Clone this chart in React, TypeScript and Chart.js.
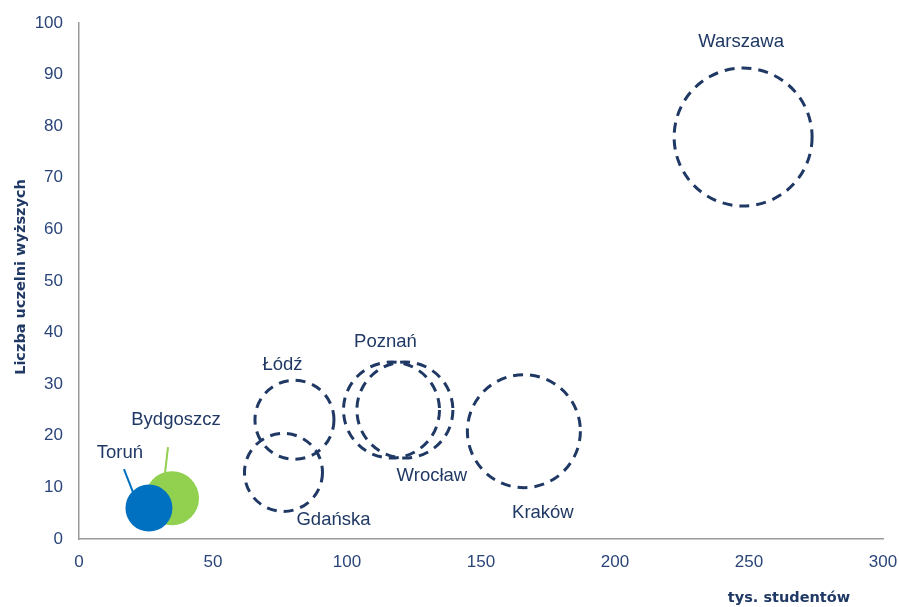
import React, { useEffect, useRef } from "react";
import { Chart, registerables } from "chart.js";

Chart.register(...registerables);

// ---- data ----
const cities = ["Warszawa", "Kraków", "Poznań", "Wrocław", "Łódź", "Gdańsk", "Bydgoszcz", "Toruń"];
const cityLabels = ["Warszawa", "Kraków", "Poznań", "Wrocław", "Łódź", "Gdańska", "Bydgoszcz", "Toruń"];
const students = [247.8, 166.0, 116.6, 121.6, 80.4, 76.3, 34.7, 26.1]; // tys. studentów
const universities = [77.9, 20.9, 25.0, 25.0, 23.1, 12.9, 7.9, 6.0]; // liczba uczelni
const bubbleSize = [69, 56.5, 48, 48, 39.5, 39, 27, 23.5];
const xTicks = [0, 50, 100, 150, 200, 250, 300];
const yTicks = [0, 10, 20, 30, 40, 50, 60, 70, 80, 90, 100];
const xTitle = "tys. studentów";
const yTitle = "Liczba uczelni wyższych";

// ---- styling ----
const NAVY = "#1F3864";
const TICK = "#2A4579";
const solidColors: Record<string, string> = { Bydgoszcz: "#92D050", Toruń: "#0070C0" };
// label offsets (px) from each bubble centre
const labelOffsets: Record<string, [number, number]> = {
  Warszawa: [-2, -95],
  Kraków: [19, 82],
  Poznań: [-6, -68],
  Wrocław: [27, 66],
  Łódź: [-12, -55],
  Gdańsk: [50, 47],
  Bydgoszcz: [4, -78],
  Toruń: [-29, -55],
};
// leader lines (px offsets from bubble centre)
const leaders: Record<string, [number, number, number, number]> = {
  Bydgoszcz: [-4, -51, -7, -25],
  Toruń: [-25, -39, -16, -16],
};

const dashedIdx = cities.map((_, i) => i).filter((i) => !solidColors[cities[i]]);
const solidIdx = cities.map((_, i) => i).filter((i) => !!solidColors[cities[i]]);

const overlay = {
  id: "overlay",
  beforeDatasetDraw(chart: any, args: any) {
    if (args.index === 0) {
      chart.ctx.setLineDash([10, 7]);
    }
  },
  afterDatasetDraw(chart: any) {
    chart.ctx.setLineDash([]);
  },
  beforeDatasetsDraw(chart: any) {
    const ctx = chart.ctx;
    const xs = chart.scales.x;
    const ys = chart.scales.y;
    ctx.save();
    ctx.lineWidth = 2;
    cities.forEach((c, i) => {
      const l = leaders[c];
      if (!l) return;
      const px = xs.getPixelForValue(students[i]);
      const py = ys.getPixelForValue(universities[i]);
      ctx.strokeStyle = solidColors[c];
      ctx.beginPath();
      ctx.moveTo(px + l[0], py + l[1]);
      ctx.lineTo(px + l[2], py + l[3]);
      ctx.stroke();
    });
    ctx.restore();
  },
  afterDatasetsDraw(chart: any) {
    const ctx = chart.ctx;
    const xs = chart.scales.x;
    const ys = chart.scales.y;
    ctx.save();
    ctx.fillStyle = NAVY;
    ctx.font = "18.5px 'Liberation Sans', Arial, sans-serif";
    ctx.textAlign = "center";
    ctx.textBaseline = "middle";
    cities.forEach((c, i) => {
      const off = labelOffsets[c];
      const px = xs.getPixelForValue(students[i]);
      const py = ys.getPixelForValue(universities[i]);
      ctx.fillText(cityLabels[i], px + off[0], py + off[1]);
    });
    // axis titles
    ctx.font = "bold 14.5px 'DejaVu Sans', sans-serif";
    ctx.fillStyle = NAVY;
    ctx.fillText(xTitle, 789, 598);
    ctx.translate(21, 277);
    ctx.rotate(-Math.PI / 2);
    ctx.fillText(yTitle, 0, 0);
    ctx.restore();
  },
};

export default function App() {
  const ref = useRef<HTMLCanvasElement>(null);
  useEffect(() => {
    if (!ref.current) return;
    const chart = new Chart(ref.current, {
      type: "bubble",
      data: {
        datasets: [
          {
            label: "dashed",
            data: dashedIdx.map((i) => ({ x: students[i], y: universities[i], r: bubbleSize[i] })),
            backgroundColor: "rgba(0,0,0,0)",
            borderColor: NAVY,
            borderWidth: 3,
            hoverRadius: 0,
          },
          {
            label: "solid",
            data: solidIdx.map((i) => ({ x: students[i], y: universities[i], r: bubbleSize[i] })),
            backgroundColor: solidIdx.map((i) => solidColors[cities[i]]),
            borderColor: solidIdx.map((i) => solidColors[cities[i]]),
            borderWidth: 0,
            hoverRadius: 0,
          },
        ],
      },
      options: {
        animation: false,
        responsive: true,
        maintainAspectRatio: false,
        events: [],
        layout: { autoPadding: false, padding: { top: 23, right: 16, bottom: 0, left: 0 } },
        plugins: { legend: { display: false }, tooltip: { enabled: false } },
        scales: {
          x: {
            type: "linear",
            min: 0,
            max: 300,
            afterBuildTicks: (s: any) => {
              s.ticks = xTicks.map((v) => ({ value: v }));
            },
            afterFit: (s: any) => {
              s.height = 68;
              s.paddingLeft = 0;
              s.paddingRight = 0;
            },
            grid: { display: false, drawTicks: false },
            border: { display: true, color: "#9A9A9A", width: 1.5 },
            ticks: {
              color: TICK,
              font: { family: "'Liberation Sans', Arial, sans-serif", size: 17 },
              padding: 13,
              maxRotation: 0,
            },
          },
          y: {
            type: "linear",
            min: 0,
            max: 100,
            afterBuildTicks: (s: any) => {
              s.ticks = yTicks.map((v) => ({ value: v }));
            },
            afterFit: (s: any) => {
              s.width = 79;
              s.paddingTop = 0;
              s.paddingBottom = 0;
            },
            grid: { display: false, drawTicks: false },
            border: { display: true, color: "#9A9A9A", width: 1.5 },
            ticks: {
              color: TICK,
              font: { family: "'Liberation Sans', Arial, sans-serif", size: 17 },
              padding: 16,
            },
          },
        },
      },
      plugins: [overlay],
    });
    return () => chart.destroy();
  }, []);
  return (
    <div style={{ position: "fixed", left: 0, top: 0, width: 899, height: 607, background: "#fff" }}>
      <canvas ref={ref} />
    </div>
  );
}
